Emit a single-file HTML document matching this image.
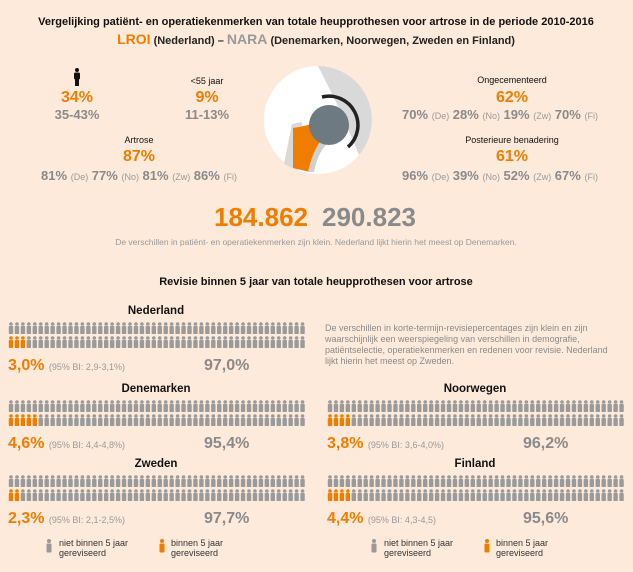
<!DOCTYPE html><html><head><meta charset="utf-8"><style>
body{margin:0;width:633px;height:572px;background:#fdeadb;font-family:"Liberation Sans",sans-serif;position:relative;overflow:hidden}
.a{position:absolute;white-space:nowrap}
.c{transform:translateX(-50%);text-align:center}
.o{color:#ef7d00;font-weight:bold}
.g{color:#8a8a8a;font-weight:bold}
.s{font-size:9px;font-weight:normal;color:#999}
.k{color:#111;font-size:9px}
</style></head><body>
<div class="a c" style="left:316px;top:16px;font-size:11px;font-weight:bold;color:#111">Vergelijking patiënt- en operatiekenmerken van totale heupprothesen voor artrose in de periode 2010-2016</div>
<div class="a c" style="left:316px;top:31px;font-size:11px;font-weight:bold;color:#222"><span style="color:#ef7d00;font-size:14px">LROI</span> (Nederland) – <span style="color:#999;font-size:14px">NARA</span> (Denemarken, Noorwegen, Zweden en Finland)</div>

<svg class="a" style="left:72px;top:68px" width="10" height="18" viewBox="0 0 10 18"><circle cx="5" cy="2" r="2" fill="#111"/><rect x="2" y="4.5" width="6" height="7" rx="1.5" fill="#111"/><rect x="3" y="10" width="4" height="8" fill="#111"/></svg>
<div class="a c o" style="left:77px;top:89px;font-size:16px">34%</div>
<div class="a c g" style="left:77px;top:107px;font-size:13px">35-43%</div>
<div class="a c k" style="left:207px;top:76px">&lt;55 jaar</div>
<div class="a c o" style="left:207px;top:89px;font-size:16px">9%</div>
<div class="a c g" style="left:207px;top:107px;font-size:13px">11-13%</div>
<div class="a c k" style="left:139px;top:135px">Artrose</div>
<div class="a c o" style="left:139px;top:148px;font-size:16px">87%</div>
<div class="a c g" style="left:139px;top:168px;font-size:13px">81% <span class="s">(De)</span> 77% <span class="s">(No)</span> 81% <span class="s">(Zw)</span> 86% <span class="s">(Fi)</span></div>

<svg class="a" style="left:262px;top:64px" width="112" height="112" viewBox="0 0 112 112">
<circle cx="56" cy="56" r="54" fill="#fff"/>
<path d="M56 2 A54 54 0 0 1 97 91 L80 50 Z" fill="#d9d9d9"/>
<path d="M30 60 L40 58 L35 106 L22 100 Z" fill="#d9d9d9"/>
<path d="M31 64 Q45 62 55 58 L58 78 Q50 90 48 108 L31 104 Z" fill="#ef7d00"/>
<path d="M52 108 Q56 85 70 76 L66 70 Q52 80 46 108Z" fill="#d0d0d0"/>
<circle cx="67" cy="61" r="20" fill="#6e7a82"/>
<path d="M60 33 A29 29 0 0 1 86 83" stroke="#222" stroke-width="3.5" fill="none"/>
</svg>

<div class="a c k" style="left:512px;top:75px">Ongecementeerd</div>
<div class="a c o" style="left:512px;top:89px;font-size:16px">62%</div>
<div class="a c g" style="left:500px;top:107px;font-size:13px">70% <span class="s">(De)</span> 28% <span class="s">(No)</span> 19% <span class="s">(Zw)</span> 70% <span class="s">(Fi)</span></div>
<div class="a c k" style="left:512px;top:135px">Posterieure benadering</div>
<div class="a c o" style="left:512px;top:148px;font-size:16px">61%</div>
<div class="a c g" style="left:500px;top:168px;font-size:13px">96% <span class="s">(De)</span> 39% <span class="s">(No)</span> 52% <span class="s">(Zw)</span> 67% <span class="s">(Fi)</span></div>

<div class="a o" style="left:214px;top:202px;font-size:26px">184.862</div>
<div class="a g" style="left:322px;top:202px;font-size:26px">290.823</div>
<div class="a c" style="left:316px;top:237px;font-size:8.5px;color:#999">De verschillen in patiënt- en operatiekenmerken zijn klein. Nederland lijkt hierin het meest op Denemarken.</div>
<div class="a c" style="left:316px;top:276px;font-size:11px;font-weight:bold;color:#111">Revisie binnen 5 jaar van totale heupprothesen voor artrose</div>
<div class="a" style="left:325px;top:323px;font-size:9px;line-height:11px;color:#8a8a8a;white-space:normal;width:290px">De verschillen in korte-termijn-revisiepercentages zijn klein en zijn waarschijnlijk een weerspiegeling van verschillen in demografie, patiëntselectie, operatiekenmerken en redenen voor revisie. Nederland lijkt hierin het meest op Zweden.</div>

<div id="blocks"></div>

<svg class="a" style="left:45px;top:539px" width="8" height="14"><circle cx="4" cy="2" r="2" fill="#999"/><rect x="1.5" y="4.5" width="5" height="9" rx="1" fill="#999"/></svg>
<div class="a k" style="left:59px;top:538px;line-height:10px;color:#333">niet binnen 5 jaar<br>gereviseerd</div>
<svg class="a" style="left:158px;top:539px" width="8" height="14"><circle cx="4" cy="2" r="2" fill="#ef7d00"/><rect x="1.5" y="4.5" width="5" height="9" rx="1" fill="#ef7d00"/></svg>
<div class="a k" style="left:171px;top:538px;line-height:10px;color:#333">binnen 5 jaar<br>gereviseerd</div>
<svg class="a" style="left:370px;top:539px" width="8" height="14"><circle cx="4" cy="2" r="2" fill="#999"/><rect x="1.5" y="4.5" width="5" height="9" rx="1" fill="#999"/></svg>
<div class="a k" style="left:384px;top:538px;line-height:10px;color:#333">niet binnen 5 jaar<br>gereviseerd</div>
<svg class="a" style="left:483px;top:539px" width="8" height="14"><circle cx="4" cy="2" r="2" fill="#ef7d00"/><rect x="1.5" y="4.5" width="5" height="9" rx="1" fill="#ef7d00"/></svg>
<div class="a k" style="left:496px;top:538px;line-height:10px;color:#333">binnen 5 jaar<br>gereviseerd</div>

<script>
var B=[["Nederland",8,305,3,"3,0%","2,9-3,1%","97,0%"],["Denemarken",8,383,5,"4,6%","4,4-4,8%","95,4%"],["Zweden",8,458,2,"2,3%","2,1-2,5%","97,7%"],["Noorwegen",327,383,4,"3,8%","3,6-4,0%","96,2%"],["Finland",327,458,4,"4,4%","4,3-4,5","95,6%"]];
var h="";
B.forEach(function(b){var x=b[1],y=b[2];
h+='<div class="a c" style="left:'+(x+148)+'px;top:'+y+'px;font-size:11.5px;font-weight:bold;color:#111">'+b[0]+'</div>';
var s='<svg class="a" style="left:'+x+'px;top:'+(y+17)+'px" width="300" height="30">';
for(var r=0;r<2;r++)for(var i=0;i<50;i++){var cx=i*5.95+3,cy=r*14;var f=(r==1&&i<b[3])?"#ef7d00":"#9a9a9a";
s+='<circle cx="'+cx+'" cy="'+(cy+2)+'" r="1.8" fill="'+f+'"/><rect x="'+(cx-2.2)+'" y="'+(cy+4)+'" width="4.4" height="8" rx="0.8" fill="'+f+'"/>';}
s+='</svg>';h+=s;
h+='<div class="a o" style="left:'+x+'px;top:'+(y+52)+'px;font-size:16px">'+b[4]+' <span class="s">(95% BI: '+b[5]+')</span></div>';
h+='<div class="a g" style="left:'+(x+196)+'px;top:'+(y+52)+'px;font-size:16px">'+b[6]+'</div>';});
document.getElementById("blocks").innerHTML=h;
</script>
</body></html>
